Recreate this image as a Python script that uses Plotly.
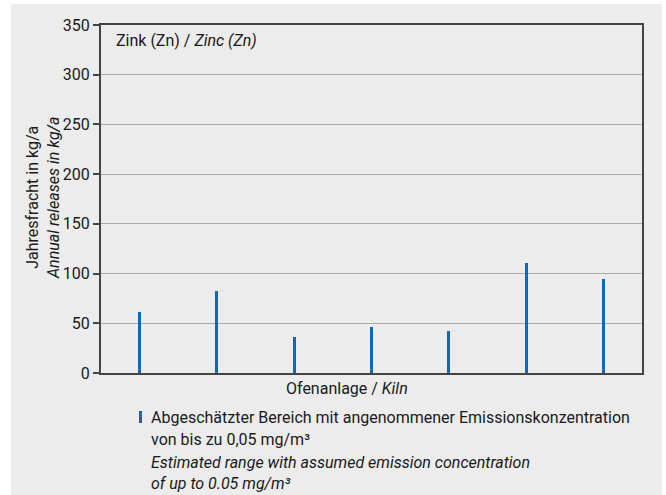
import plotly.graph_objects as go

# Estimated annual zinc releases per kiln (kg/a)
kilns = ["1", "2", "3", "4", "5", "6", "7"]
releases = [61, 82.5, 36.5, 46, 42.5, 111, 95]
y_ticks = [0, 50, 100, 150, 200, 250, 300, 350]

# Legend text lines (German, then English in italics)
legend_lines = [
    "Abgeschätzter Bereich mit angenommener Emissionskonzentration",
    "von bis zu 0,05 mg/m³",
    "<i>Estimated range with assumed emission concentration</i>",
    "<i>of up to 0.05 mg/m³</i>",
]

FONT = "Roboto, Liberation Sans, sans-serif"
BAR_COLOR = "#1565b0"
TEXT = "#1a1a1a"
FS = 16

W, H = 666, 495
ML, MR, MT, MB = 101, 24, 25, 122
PW = W - ML - MR
PH = H - MT - MB


def px_x(x):
    return (x - ML) / PW


def px_y(y):
    return 1 - (y - MT) / PH


fig = go.Figure()
fig.add_trace(go.Bar(
    x=list(range(len(kilns))),
    y=releases,
    width=0.04,
    marker=dict(color=BAR_COLOR, line=dict(width=0)),
    showlegend=False,
    hoverinfo="y",
))

shapes = [
    # grey panel behind the whole chart
    dict(type="rect", xref="paper", yref="paper",
         x0=px_x(11), x1=px_x(662), y0=px_y(500), y1=px_y(4),
         fillcolor="#ebeceb", line=dict(width=0), layer="below"),
    # legend key
    dict(type="rect", xref="paper", yref="paper",
         x0=px_x(139), x1=px_x(142), y0=px_y(423), y1=px_y(411),
         fillcolor=BAR_COLOR, line=dict(width=0)),
]

annotations = [
    dict(text="Zink (Zn) / <i>Zinc (Zn)</i>", xref="paper", yref="paper",
         x=px_x(114), y=px_y(40), xanchor="left", yanchor="middle",
         showarrow=False, font=dict(family=FONT, size=FS, color=TEXT)),
    dict(text="Jahresfracht in kg/a<br><i>Annual releases in kg/a</i>",
         xref="paper", yref="paper", x=px_x(43), y=px_y(198),
         xanchor="center", yanchor="middle", textangle=-90,
         showarrow=False, font=dict(family=FONT, size=FS, color=TEXT)),
    dict(text="Ofenanlage / <i>Kiln</i>", xref="paper", yref="paper",
         x=px_x(347), y=px_y(388), xanchor="center", yanchor="middle",
         showarrow=False, font=dict(family=FONT, size=FS, color=TEXT)),
]

line_centres = [417, 439, 462, 484]
for text, yc in zip(legend_lines, line_centres):
    annotations.append(dict(
        text=text, xref="paper", yref="paper",
        x=px_x(149), y=px_y(yc), xanchor="left", yanchor="middle",
        align="left", showarrow=False,
        font=dict(family=FONT, size=FS, color=TEXT),
    ))

fig.update_layout(
    width=W, height=H,
    margin=dict(l=ML, r=MR, t=MT, b=MB, pad=0),
    paper_bgcolor="white",
    plot_bgcolor="white",
    font=dict(family=FONT, size=FS, color=TEXT),
    shapes=shapes,
    annotations=annotations,
    bargap=0,
    xaxis=dict(
        range=[-0.5, len(kilns) - 0.5],
        showticklabels=False, ticks="", showgrid=False, zeroline=False,
        showline=True, linecolor="#444", linewidth=2, mirror=True,
        fixedrange=True,
    ),
    yaxis=dict(
        range=[0, 350], tickvals=y_ticks,
        ticks="outside", ticklen=6, tickwidth=1.5, tickcolor="#444",
        showgrid=True, gridcolor="#a9a9a9", gridwidth=1.3,
        zeroline=False,
        showline=True, linecolor="#444", linewidth=2, mirror=True,
        tickfont=dict(family=FONT, size=16, color=TEXT),
        fixedrange=True,
    ),
)

fig.write_html("out.html")
